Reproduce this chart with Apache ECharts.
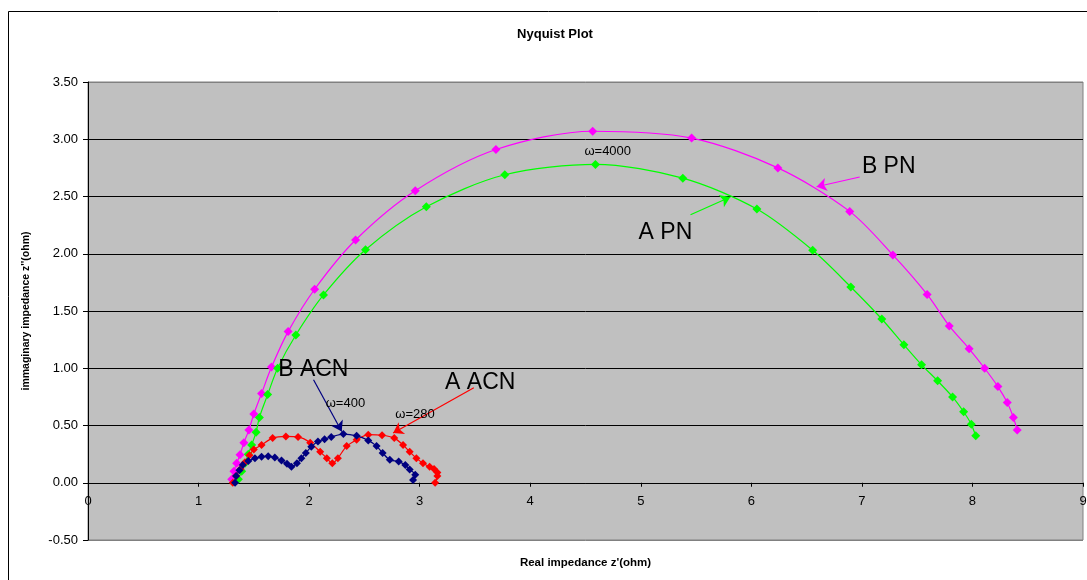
<!DOCTYPE html>
<html>
<head>
<meta charset="utf-8">
<script src="https://cdn.jsdelivr.net/npm/echarts@6/dist/echarts.min.js"></script>
<style>
html,body{margin:0;padding:0;background:#fff;}
#chart{width:1087px;height:580px;}
</style>
</head>
<body>
<div id="chart"></div>
<script>
// ---- data ----
var seriesNames = ['B PN', 'A PN', 'A ACN', 'B ACN'];
var bPN = [[1.30,0.03],[1.32,0.10],[1.345,0.17],[1.375,0.245],[1.41,0.35],[1.455,0.46],[1.50,0.60],[1.57,0.78],[1.66,1.01],[1.81,1.32],[2.05,1.69],[2.42,2.12],[2.96,2.55],[3.69,2.91],[4.565,3.07],[5.46,3.01],[6.24,2.75],[6.89,2.37],[7.28,1.99],[7.59,1.645],[7.79,1.37],[7.97,1.17],[8.11,1.00],[8.23,0.84],[8.315,0.70],[8.37,0.57],[8.405,0.46]];
var aPN = [[1.36,0.03],[1.39,0.10],[1.42,0.17],[1.45,0.25],[1.48,0.33],[1.52,0.44],[1.55,0.57],[1.625,0.77],[1.715,1.00],[1.88,1.29],[2.13,1.64],[2.51,2.035],[3.06,2.41],[3.77,2.69],[4.59,2.78],[5.38,2.66],[6.05,2.39],[6.555,2.03],[6.90,1.71],[7.18,1.43],[7.38,1.205],[7.54,1.03],[7.685,0.89],[7.82,0.75],[7.92,0.62],[7.99,0.51],[8.03,0.41]];
var aACN = [[1.31,0.0],[1.34,0.06],[1.38,0.12],[1.42,0.18],[1.46,0.24],[1.50,0.29],[1.57,0.33],[1.67,0.39],[1.79,0.405],[1.90,0.40],[2.01,0.35],[2.10,0.27],[2.16,0.215],[2.21,0.17],[2.26,0.215],[2.34,0.32],[2.43,0.375],[2.535,0.42],[2.66,0.415],[2.77,0.39],[2.85,0.33],[2.91,0.27],[2.97,0.215],[3.03,0.17],[3.09,0.14],[3.13,0.12],[3.16,0.09],[3.16,0.06],[3.14,0.0]];
var bACN = [[1.33,0.00],[1.34,0.06],[1.37,0.11],[1.40,0.155],[1.45,0.19],[1.51,0.213],[1.57,0.228],[1.63,0.232],[1.69,0.22],[1.75,0.195],[1.80,0.165],[1.84,0.14],[1.89,0.17],[1.93,0.215],[1.97,0.26],[2.02,0.315],[2.08,0.36],[2.14,0.38],[2.20,0.40],[2.31,0.425],[2.43,0.41],[2.535,0.37],[2.61,0.32],[2.665,0.26],[2.73,0.20],[2.81,0.185],[2.87,0.155],[2.91,0.115],[2.96,0.07],[2.94,0.025]];
var colors = ['#FF00FF', '#00FF00', '#FF0000', '#000080'];
// annotation arrows: [fromX, fromY, toX, toY] in data units
var arrows = [[6.98,2.67,6.59,2.585],[5.45,2.34,5.81,2.495],[3.49,0.83,2.76,0.434],[2.04,0.90,2.295,0.448]];
// annotation texts: [text, x, y, fontSize]
var labels = [['B PN',7.0,2.76,23],['A PN',4.98,2.18,23],['A ACN',3.23,0.87,23],['B ACN',1.72,0.99,23],['ω=4000',4.49,2.895,13],['ω=400',2.15,0.69,13],['ω=280',2.78,0.60,13]];
var xTicks = {min:0, max:9, interval:1};
var yTicks = {min:-0.5, max:3.5, interval:0.5};

var chart = echarts.init(document.getElementById('chart'), null, {renderer:'canvas'});
var FONT = 'Liberation Sans, Arial, sans-serif';
var dataSets = [bPN, aPN, aACN, bACN];
var series = dataSets.map(function(d, i){
  return {
    name: seriesNames[i], type:'line', data:d, smooth:0.3,
    symbol:'diamond', symbolSize: i < 2 ? 9 : 8,
    itemStyle:{color:colors[i]},
    lineStyle:{color:colors[i], width:1.2},
    markLine:{
      silent:true, symbol:['none','arrow'], symbolSize:10,
      label:{show:false},
      lineStyle:{color:colors[i], width:1.2, type:'solid'},
      data:[[{coord:[arrows[i][0],arrows[i][1]]},{coord:[arrows[i][2],arrows[i][3]]}]]
    },
    animation:false
  };
});
var splitColors = ['#808080','#000','#000','#000','#000','#000','#000','#000','#808080'];
chart.setOption({
  animation:false,
  backgroundColor:'#fff',
  grid:{left:88, top:82, right:4, bottom:40, outerBoundsMode:'none', containLabel:false, show:true, backgroundColor:'#C0C0C0', borderColor:'#808080', borderWidth:1},
  xAxis:{
    type:'value', min:xTicks.min, max:xTicks.max, interval:xTicks.interval,
    name:"Real impedance z'(ohm)", nameLocation:'middle', nameGap:74,
    nameTextStyle:{fontFamily:FONT, fontSize:11.5, fontWeight:'bold', color:'#000'},
    axisLine:{onZero:false, lineStyle:{color:'#000', width:1}},
    axisTick:{show:true, length:4, lineStyle:{color:'#000'}},
    axisLabel:{fontFamily:FONT, fontSize:13, color:'#000', margin:12, showMaxLabel:true, showMinLabel:true},
    splitLine:{show:false}
  },
  yAxis:{
    type:'value', min:yTicks.min, max:yTicks.max, interval:yTicks.interval,
    name:"immaginary impedance z''(ohm)", nameLocation:'middle', nameGap:56,
    nameTextStyle:{fontFamily:FONT, fontSize:10.5, fontWeight:'bold', color:'#000'},
    axisLine:{show:true, onZero:false, lineStyle:{color:'#000', width:1}},
    axisTick:{show:true, length:5, lineStyle:{color:'#000'}},
    axisLabel:{fontFamily:FONT, fontSize:13, color:'#000', margin:10, formatter:function(v){return v.toFixed(2);}},
    splitLine:{show:true, lineStyle:{color:splitColors, width:1}}
  },
  series:series
});

// place the x axis on the zero line (as in the reference)
var zeroPx = chart.convertToPixel({gridIndex:0}, [0, 0])[1];
var bottomPx = chart.convertToPixel({gridIndex:0}, [0, yTicks.min])[1];
chart.setOption({xAxis:{offset: -(bottomPx - zeroPx)}});

var g = [
  {type:'rect', shape:{x:8.5, y:11.5, width:1100, height:600}, style:{fill:'none', stroke:'#000', lineWidth:1}, z:-1, silent:true},
  {type:'text', style:{text:'Nyquist Plot', x:555, y:34, textAlign:'center', textVerticalAlign:'middle', font:'bold 13px ' + FONT, fill:'#000'}}
];
labels.forEach(function(l){
  var p = chart.convertToPixel({gridIndex:0}, [l[1], l[2]]);
  g.push({type:'text', z:100, style:{text:l[0], x:p[0], y:p[1], textAlign:'left', textVerticalAlign:'middle', font:l[3]+'px ' + FONT, fill:'#000'}});
});
chart.setOption({graphic:g});
</script>
</body>
</html>
